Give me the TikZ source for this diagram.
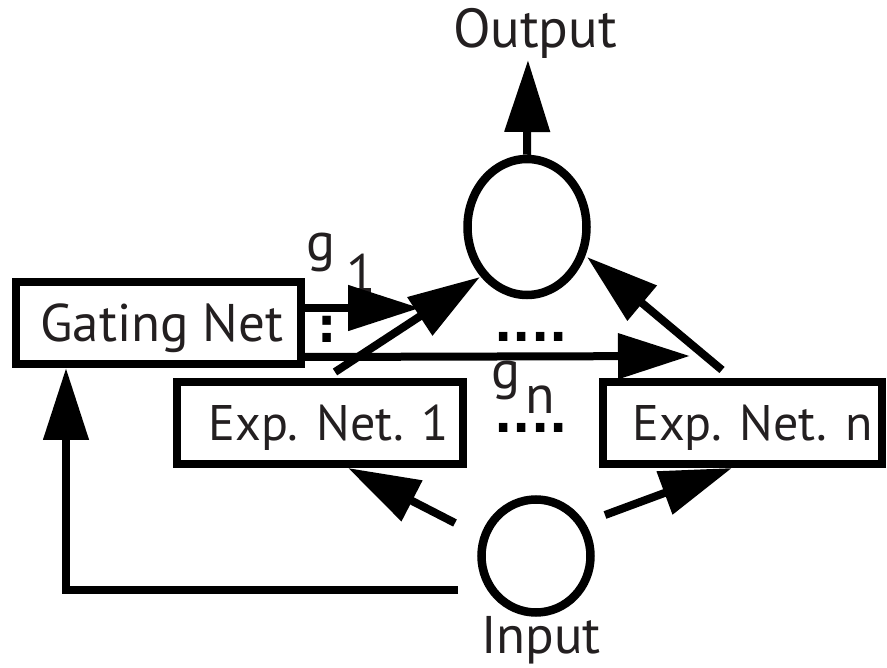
\documentclass[tikz,border=0pt]{standalone}
\usepackage{fontspec}
\setmainfont{PT Sans}
\newfontfamily\dotfont{DejaVu Sans}
\usetikzlibrary{arrows.meta,shapes.geometric}
\definecolor{ink}{RGB}{35,31,32}
\begin{document}
\begin{tikzpicture}[x=1pt,y=-1pt,
  box/.style={draw=black, line width=8pt, minimum height=82pt, inner sep=0pt,
    text=ink, font=\fontsize{50}{58}\selectfont, text height=35pt, text depth=0pt},
  unit/.style={draw=black, ellipse, line width=8.5pt, inner sep=0pt},
  lbl/.style={text=ink, font=\fontsize{54}{60}\selectfont, inner sep=0pt},
  dotrow/.style={text=black, font=\dotfont\bfseries\fontsize{48}{56}\selectfont, inner sep=0pt},
  conn/.style={line width=8pt, -{Triangle[length=72pt,width=44pt]}},
  wire/.style={line width=8pt}]
\useasboundingbox (0,0) rectangle (887,668);
% boxes
\node[box, minimum width=285pt, font=\fontsize{53}{60}\selectfont, text height=37pt] (gate) at (158.5,323) {\hspace*{7pt}Gating Net};
\node[box, minimum width=286pt] (exp1) at (320,423) {\hspace*{18pt}Exp. Net. 1};
\node[box, minimum width=279pt] (expn) at (742.5,423) {\hspace*{20pt}Exp. Net. n};
% units
\node[unit, minimum width=119pt, minimum height=136pt] (out) at (527,227) {};
\node[unit, minimum width=109pt, minimum height=113pt] (in) at (536,556) {};
% texts
\node[lbl, anchor=base, font=\fontsize{55}{60}\selectfont] (outT) at (535,48) {Output};
\node[lbl, anchor=base, font=\fontsize{53}{60}\selectfont] (inT) at (541,653) {Input};
\node[lbl, anchor=base west] (g1) at (306,261) {g\kern11pt\raisebox{-32pt}{1}};
\node[lbl, anchor=base west] (gn) at (491,389) {g\kern5pt\raisebox{-25pt}{n}};
\node[dotrow] (colon) at (327,329) {:};
\node[dotrow] (dots1) at (531,337) {....};
\node[dotrow] (dots2) at (531,428) {....};
% coordinates
\coordinate (outTip) at (528,60);
\coordinate (g1Tip) at (420,308);
\coordinate (gnTip) at (690,356);
\coordinate (e1s) at (335,372);
\coordinate (e1t) at (480,277);
\coordinate (ens) at (722,370);
\coordinate (ent) at (587,257);
\coordinate (i1s) at (455,523);
\coordinate (i1t) at (348,468);
\coordinate (ins) at (605,515);
\coordinate (int) at (732,468);
\coordinate (feed) at (458,590);
\coordinate (gin) at (66,368);
% connectors
\draw[conn] (out.north) -- (outTip);
\draw[conn] ([yshift=15pt]gate.east) -- (g1Tip);
\draw[conn] ([yshift=-34pt]gate.east) -- (gnTip);
\draw[conn] (e1s) -- (e1t);
\draw[conn] (ens) -- (ent);
\draw[conn] (i1s) -- (i1t);
\draw[conn] (ins) -- (int);
\draw[conn] (feed) -| (gin);
\end{tikzpicture}
\end{document}
